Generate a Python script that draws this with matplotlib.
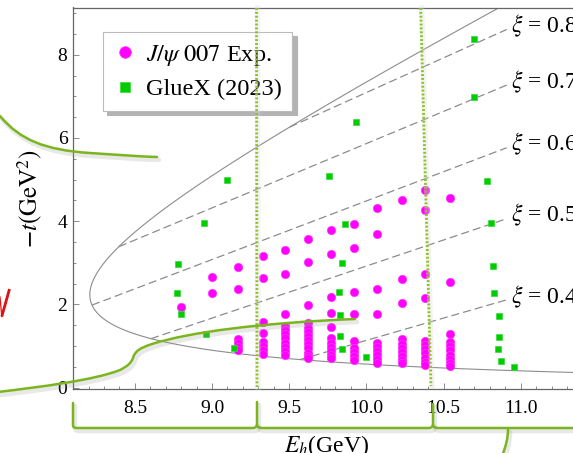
import numpy as np
import matplotlib
matplotlib.use("Agg")
import matplotlib.pyplot as plt
from matplotlib.path import Path
from matplotlib.patches import PathPatch
from matplotlib.lines import Line2D
from matplotlib.transforms import Affine2D
import matplotlib.ticker as mticker

plt.rcParams['font.family'] = ['Liberation Serif', 'DejaVu Serif']
plt.rcParams['mathtext.fontset'] = 'stix'

# ---------------- data ----------------
jpsi_col_E = [8.80, 9.00, 9.17, 9.33, 9.47, 9.62, 9.77, 9.92, 10.07, 10.23, 10.38, 10.54]
jpsi_col_t = [
    [1.94],
    [2.66, 2.26],
    [2.89, 2.36, 1.17, 1.08, 0.98, 0.89],
    [3.17, 2.63, 1.57, 1.30, 1.09, 0.99, 0.90, 0.81],
    [3.31, 2.74, 1.77, 1.48, 1.38, 1.28, 1.18, 1.08, 0.98, 0.88, 0.78],
    [3.56, 3.01, 1.99, 1.54, 1.44, 1.34, 1.24, 1.14, 1.04, 0.94, 0.84, 0.76, 0.70],
    [3.79, 3.21, 2.18, 1.80, 1.46, 1.20, 1.06, 0.97, 0.88, 0.79, 0.71],
    [3.94, 3.35, 2.29, 1.76, 1.12, 0.95, 0.85, 0.76, 0.67],
    [4.31, 3.69, 2.37, 1.77, 1.08, 0.98, 0.88, 0.78, 0.68, 0.60],
    [4.51, 2.62, 2.02, 1.16, 1.05, 0.95, 0.85, 0.75, 0.66, 0.58],
    [4.75, 4.27, 2.74, 2.14, 1.12, 1.02, 0.92, 0.82, 0.72, 0.62, 0.54],
    [4.56, 2.54, 1.29, 1.09, 0.99, 0.89, 0.79, 0.69, 0.60, 0.52],
]
gluex_E = [8.78, 8.77, 8.80, 8.96, 9.14, 8.95, 9.10, 9.76, 9.93, 9.86, 9.84, 9.82,
           9.83, 9.83, 9.84, 10.00, 10.70, 10.70, 10.78, 10.81, 10.82, 10.83,
           10.86, 10.86, 10.85, 10.87, 10.96]
gluex_t = [2.98, 2.28, 1.76, 1.29, 0.96, 3.96, 4.98, 5.09, 6.39, 3.92, 3.00, 2.29,
           1.74, 1.25, 0.92, 0.74, 8.38, 6.99, 4.96, 3.96, 2.92, 2.28,
           1.72, 1.22, 0.93, 0.64, 0.50]
xi_values = [0.4, 0.5, 0.6, 0.7, 0.8]
x_ticks = [8.5, 9.0, 9.5, 10.0, 10.5, 11.0]
y_ticks = [0, 2, 4, 6, 8]

# ---------------- kinematics ----------------
Mp, MV = 0.938272, 3.0969
E_th = ((Mp + MV) ** 2 - Mp ** 2) / (2 * Mp)


def t_bounds(E):
    s = Mp ** 2 + 2 * Mp * E
    rs = np.sqrt(s)
    Eg = (s - Mp ** 2) / (2 * rs)
    EV = (s + MV ** 2 - Mp ** 2) / (2 * rs)
    pV = np.sqrt(np.maximum(EV ** 2 - MV ** 2, 0))
    return 2 * Eg * (EV - pV) - MV ** 2, 2 * Eg * (EV + pV) - MV ** 2


def t_xi(xi, E):
    return 2 * xi * 2 * Mp * E / (1 + xi) - MV ** 2


W, H = 573, 453
fig = plt.figure(figsize=(W / 100, H / 100), dpi=100)
fig.patch.set_facecolor('white')
ax_l, ax_r, ax_t, ax_b = 73, 613, 7.5, 389
ax = fig.add_axes([ax_l / W, 1 - ax_b / H, (ax_r - ax_l) / W, (ax_b - ax_t) / H])
xmin = 8.5 - (134.9 - ax_l) / 154.3
xmax = xmin + (ax_r - ax_l) / 154.3
ax.set_xlim(xmin, xmax)
ax.set_ylim(-(ax_b - 387.5) / 41.6, (387.5 - ax_t) / 41.6)

# kinematic boundary
u = np.linspace(0, 1, 1200)
Eb = E_th + (xmax - E_th) * u ** 2
tmin, tmax = t_bounds(Eb)
ax.plot(np.concatenate([Eb[::-1], Eb]), np.concatenate([tmax[::-1], tmin]),
        color='#8c8c8c', lw=0.8, zorder=2)

# xi lines
E_end = 10.91
Eg = np.linspace(E_th, E_end, 6000)
lo, hi = t_bounds(Eg)
for xi in xi_values:
    tx = t_xi(xi, Eg)
    inside = (tx >= lo) & (tx <= hi)
    E0 = Eg[inside][0]
    ax.plot([E0, E_end], [t_xi(xi, E0), t_xi(xi, E_end)], color='#8c8c8c', lw=0.9,
            linestyle=(0, (6.5, 3.2)), zorder=2)
    ax.text(E_end + 0.03, t_xi(xi, E_end) + 0.08, r'$\xi$ = %.1f' % xi, fontsize=17,
            ha='left', va='center', clip_on=False, zorder=3)

# data
jE, jt = [], []
for e, ts in zip(jpsi_col_E, jpsi_col_t):
    jE += [e] * len(ts)
    jt += ts
ax.plot(jE, jt, 'o', color='#ff00ff', ms=6, mec='#ff33ff', mew=0.5, zorder=4,
        label=r'$J/\psi\ \mathit{007}$ Exp.')
ax.plot(gluex_E, gluex_t, 's', color='#00cc00', ms=4.8, mec='#33dd33', mew=0.5, zorder=5,
        label='GlueX (2023)')

# axes styling
ax.set_xticks(x_ticks)
ax.set_yticks(y_ticks)
ax.xaxis.set_major_formatter(mticker.FormatStrFormatter('%.1f'))
ax.xaxis.set_minor_locator(mticker.MultipleLocator(0.1))
ax.yaxis.set_minor_locator(mticker.MultipleLocator(0.5))
ax.tick_params(which='both', direction='in', top=False, right=False, color='#8c8c8c',
               width=0.7, labelsize=14)
ax.tick_params(which='major', length=4.0)
ax.tick_params(which='minor', length=2.4)
ax.tick_params(axis='x', pad=8)
ax.tick_params(axis='y', pad=4)
for sp in ax.spines.values():
    sp.set_color('#666666')
    sp.set_linewidth(0.9)
ax.set_ylabel(r'$-t(\mathrm{GeV}^2)$', fontsize=18)
ax.yaxis.set_label_coords(-0.052, 0.498)
ax.set_xlabel(r'$E_h$(GeV)', fontsize=17)
ax.xaxis.set_label_coords(0.470, -0.115)

leg = ax.legend(loc='upper left', bbox_to_anchor=(103 / W, 1 - 32 / H),
                bbox_transform=fig.transFigure, fontsize=17.5, fancybox=False,
                edgecolor='#bbbbbb', framealpha=1, borderaxespad=0,
                borderpad=0.45, handlelength=0.9, handletextpad=0.4,
                labelspacing=0.42, markerscale=1.4,
                shadow={'ox': 3, 'oy': -3, 'color': '0.7', 'alpha': 1})
leg.get_frame().set_linewidth(0.8)

# ---------------- slide annotations (figure pixels, origin top-left) ----------------
px = Affine2D().scale(1, -1).translate(0, H)
green = '#7ab51d'
M, L, C = Path.MOVETO, Path.LINETO, Path.CURVE4


def annot(verts, codes, lw=1.8):
    v = np.array(verts, float)
    for vv, col, w, a, z in [(v + [2.0, 3.0], '0.6', lw + 1.5, 0.22, 6), (v, green, lw, 1, 7)]:
        fig.add_artist(PathPatch(Path(vv, codes), transform=px, facecolor='none',
                                 edgecolor=col, lw=w, alpha=a, zorder=z, capstyle='round'))


annot([(0, 116), (20, 140), (45, 150), (90, 153), (120, 155), (140, 156.5), (157, 157)],
      [M, C, C, C, C, C, C])
annot([(-2, 392), (40, 387), (95, 380), (120, 370), (128, 366), (131, 363), (133, 358),
       (135, 351), (140, 348), (152, 344), (190, 332), (260, 323), (355, 319)],
      [M, C, C, C, C, C, C, C, C, C, C, C, C])
annot([(73, 403), (73, 425), (73, 427), (74, 428), (77, 428), (252, 428),
       (255, 428), (257, 427), (257, 424), (257, 402)],
      [M, L, C, C, C, L, C, C, C, L])
annot([(257, 424), (257, 427), (259, 428), (262, 428), (428, 428),
       (431, 428), (433, 427), (433, 424), (433, 404)],
      [M, C, C, C, L, C, C, C, L])
annot([(433, 424), (433, 427), (435, 428), (438, 428), (580, 428)],
      [M, C, C, C, L])
annot([(508, 429), (508, 438), (506, 446), (502, 456)], [M, C, C, C])

# dotted vertical guides
for (x0, y0, x1, y1) in [(256.5, 8, 257.0, 387), (420.7, 8, 431.0, 386)]:
    fig.add_artist(Line2D([x0 + 1.0, x1 + 1.0], [y0, y1], transform=px, color='0.85',
                          lw=4.0, alpha=0.3, zorder=6))
    fig.add_artist(Line2D([x0, x1], [y0, y1], transform=px, color='#8dc21f', lw=2.0,
                          linestyle=(0, (0.7, 0.7)), dash_capstyle='butt', zorder=7))

# red mark at left edge
fig.add_artist(Line2D([0, 1.8], [297, 316.5], transform=px, color='#dd1111', lw=0.9, zorder=7))
fig.add_artist(Line2D([1.8, 9.5], [316.5, 289], transform=px, color='#dd1111', lw=2.0,
                      solid_capstyle='butt', zorder=7))

fig.savefig('out.png', dpi=100)
